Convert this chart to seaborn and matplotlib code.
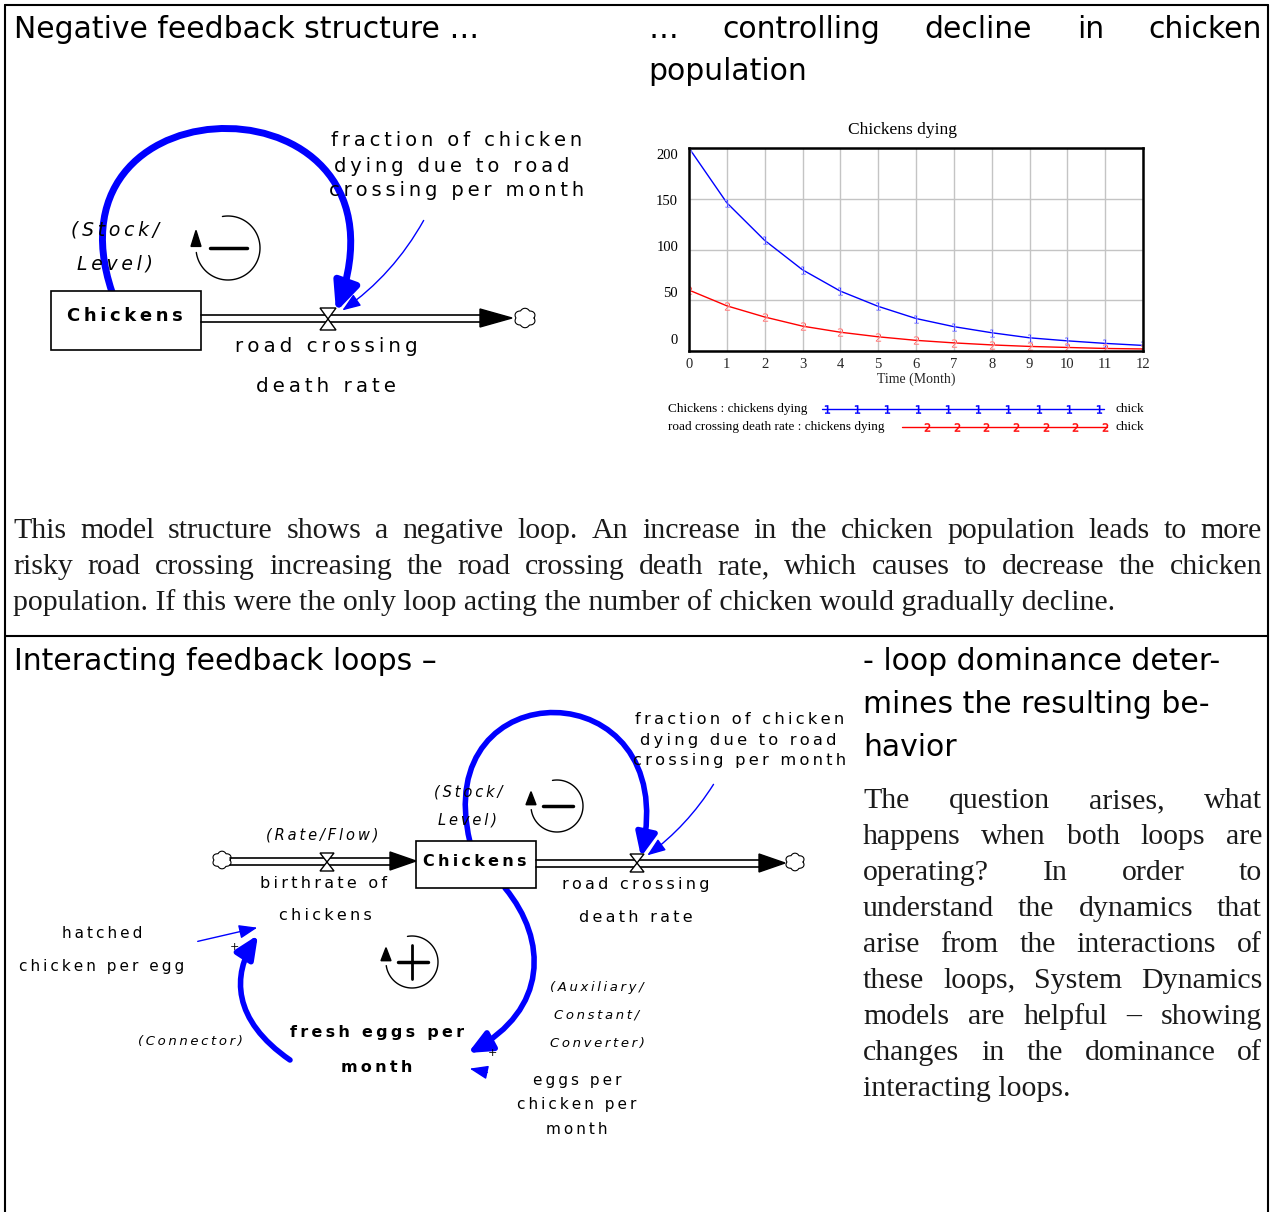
import matplotlib
matplotlib.use("Agg")
import numpy as np
import pandas as pd
import matplotlib.pyplot as plt
import seaborn as sns
from matplotlib.path import Path
from matplotlib.patches import FancyArrowPatch, Polygon, Rectangle

# chart data
months = list(range(13))
chickens_dying = [200, 146, 109, 80, 59, 44, 32, 24, 18, 13, 10, 7.5, 5.5]
road_death_rate = [60, 44.5, 33.5, 24.5, 18.5, 14, 10.5, 8, 6, 4.5, 3.5, 2.5, 2]
series_names = ["Chickens : chickens dying", "road crossing death rate : chickens dying"]
y_tick_labels = ["200", "150", "100", "50", "0"]

top_para = [
    "This model structure shows a negative loop. An increase in the chicken population leads to more",
    "risky road crossing increasing the road crossing death rate, which causes to decrease the chicken",
    "population. If this were the only loop acting the number of chicken would gradually decline.",
]
right_para = [
    "The question arises, what",
    "happens when both loops are",
    "operating? In order to",
    "understand the dynamics that",
    "arise from the interactions of",
    "these loops, System Dynamics",
    "models are helpful \u2013 showing",
    "changes in the dominance of",
    "interacting loops.",
]

BLUE = "#0000ff"
RED = "#ff0000"
SANS = "DejaVu Sans"
SERIF = "Liberation Serif"
HEAD = 21.5
BODY = 21.5

sns.set_style("white")
plt.rcParams["font.family"] = [SANS]
plt.rcParams["text.color"] = "black"

fig = plt.figure(figsize=(12.73, 12.12), dpi=100)
ax = fig.add_axes([0, 0, 1, 1])
ax.set_xlim(0, 1273)
ax.set_ylim(1212, 0)
ax.axis("off")
renderer = fig.canvas.get_renderer()


def spaced(s):
    return "\u2009".join(s)


def justify(line, x0, x1, y, **kw):
    words = line.split()
    texts = [ax.text(0, y, w, va="baseline", ha="left", **kw) for w in words]
    widths = [t.get_window_extent(renderer).width for t in texts]
    gap = (x1 - x0 - sum(widths)) / max(len(words) - 1, 1)
    x = x0
    for t, w in zip(texts, widths):
        t.set_x(x)
        x += w + gap


def paragraph(lines, x0, x1, y0, step=36):
    for i, line in enumerate(lines):
        y = y0 + step * i + 7  # baseline
        if i < len(lines) - 1:
            justify(line, x0, x1, y, fontsize=BODY, family=SERIF, color="#1a1a1a")
        else:
            ax.text(x0, y, line, fontsize=BODY, family=SERIF, va="baseline", color="#1a1a1a")


def label(x, y, s, size=12, **kw):
    ax.text(x, y, spaced(s), ha="center", va="center", fontsize=size, family=SANS, **kw)


def thick_arc(pts, lw=5, scale=15):
    p = Path(pts, [Path.MOVETO, Path.CURVE4, Path.CURVE4, Path.CURVE4])
    ax.add_patch(FancyArrowPatch(path=p, arrowstyle="-|>,head_length=1.0,head_width=0.45",
                                 mutation_scale=scale, lw=lw, color=BLUE))


def thin_arrow(a, b, rad=0.0):
    ax.add_patch(FancyArrowPatch(a, b, connectionstyle=f"arc3,rad={rad}",
                                 arrowstyle="-|>,head_length=0.8,head_width=0.3",
                                 mutation_scale=14, lw=1, color=BLUE))


def valve(cx, cy, h=11, w=8):
    ax.add_patch(Polygon([(cx - w, cy - h), (cx + w, cy - h), (cx, cy), (cx + w, cy + h),
                          (cx - w, cy + h), (cx, cy)], closed=True, fc="white", ec="black", lw=1, zorder=4))


def pipe(x0, x1, y, head=28):
    ax.plot([x0, x1 - head], [y - 3.5, y - 3.5], color="black", lw=1.2, zorder=3)
    ax.plot([x0, x1 - head], [y + 3.5, y + 3.5], color="black", lw=1.2, zorder=3)
    ax.add_patch(Polygon([(x1 - head, y - 9), (x1, y), (x1 - head, y + 9)], closed=True,
                         fc="black", ec="black", zorder=3))


def cloud(cx, cy, r=9):
    t = np.linspace(0, 2 * np.pi, 200)
    rr = r + 1.8 * np.abs(np.sin(3 * t))
    ax.plot(cx + rr * np.cos(t), cy + rr * np.sin(t) * 0.9, color="black", lw=0.8)


def loop_symbol(cx, cy, r, sign):
    t = np.radians(np.linspace(100, -172, 100))
    ax.plot(cx + r * np.cos(t), cy - r * np.sin(t), color="black", lw=1)
    ax_x = cx - r
    ax.add_patch(Polygon([(ax_x, cy - r * 0.55), (ax_x - 5, cy - r * 0.05), (ax_x + 5, cy - r * 0.05)],
                         closed=True, fc="black", ec="black"))
    ax.plot([cx - r * 0.55, cx + r * 0.6], [cy, cy], color="black", lw=2.5)
    if sign == "+":
        ax.plot([cx, cx], [cy - r * 0.65, cy + r * 0.65], color="black", lw=2)


# frame
ax.plot([5, 5], [5, 1212], color="black", lw=1.5)
ax.plot([1268, 1268], [5, 1212], color="black", lw=1.5)
ax.plot([5, 1268], [5, 5], color="black", lw=1.5)
ax.plot([5, 1268], [636, 636], color="black", lw=1.5)

# headings
ax.text(14, 38, "Negative feedback structure \u2026", fontsize=HEAD, va="baseline", family=SANS)
justify("\u2026 controlling decline in chicken", 648, 1262, 38, fontsize=HEAD, family=SANS)
ax.text(648, 80, "population", fontsize=HEAD, va="baseline", family=SANS)
ax.text(14, 670, "Interacting feedback loops \u2013", fontsize=HEAD, va="baseline", family=SANS)
for i, s in enumerate(["- loop dominance deter-", "mines the resulting be-", "havior"]):
    ax.text(863, 670 + 43 * i, s, fontsize=HEAD, va="baseline", family=SANS)

# paragraphs
paragraph(top_para, 13, 1262, 531)
paragraph(right_para, 863, 1262, 801)

# top-left stock and flow diagram
ax.add_patch(Rectangle((51, 291), 150, 59, fc="white", ec="black", lw=1.2, zorder=2))
label(125, 316, "Chickens", size=13, weight="bold", zorder=5)
pipe(201, 512, 318, head=32)
cloud(525, 318)
valve(328, 319)
label(326, 347, "road crossing", size=14.3)
label(326, 387, "death rate", size=14.3)
label(457, 141, "fraction of chicken", size=14)
label(452, 166, "dying due to road", size=14)
label(457, 191, "crossing per month", size=14)
label(115, 230, "(Stock/", size=13.5, style="italic")
label(115, 264, "Level)", size=13.5, style="italic")
thick_arc([(112, 292), (38, 72), (422, 72), (336, 312)], lw=5, scale=17)
thin_arrow((425, 218), (340, 312), rad=-0.12)
loop_symbol(228, 248, 32, "-")

# bottom diagram
ax.add_patch(Rectangle((416, 841), 120, 47, fc="white", ec="black", lw=1.2, zorder=2))
label(475, 861, "Chickens", size=11.5, weight="bold", zorder=5)
pipe(230, 416, 861, head=26)
pipe(536, 785, 863, head=26)
cloud(222, 860, r=8)
cloud(795, 862, r=8)
valve(327, 862, h=9, w=7)
valve(637, 863, h=9, w=7)
label(322, 835, "(Rate/Flow)", size=10.5, style="italic")
label(324, 883, "birthrate of", size=11.5)
label(325, 916, "chickens", size=11.5)
label(636, 885, "road crossing", size=11.5)
label(636, 918, "death rate", size=11.5)
label(740, 720, "fraction of chicken", size=11.7)
label(738, 741, "dying due to road", size=11.7)
label(740, 761, "crossing per month", size=11.7)
label(468, 792, "(Stock/", size=10.5, style="italic")
label(468, 820, "Level)", size=10.5, style="italic")
label(102, 933, "hatched", size=11)
label(102, 966, "chicken per egg", size=11)
label(377, 1032, "fresh eggs per", size=11.5, weight="bold")
label(377, 1067, "month", size=11.5, weight="bold")
label(577, 1081, "eggs per", size=11)
label(577, 1105, "chicken per", size=11)
label(577, 1130, "month", size=11)
label(597, 987, "(Auxiliary/", size=9.5, style="italic")
label(597, 1015, "Constant/", size=9.5, style="italic")
label(597, 1043, "Converter)", size=9.5, style="italic")
label(190, 1042, "(Connector)", size=9.5, style="italic")
ax.text(234, 947, "+", fontsize=8, ha="center", va="center")
ax.text(492, 1053, "+", fontsize=8, ha="center", va="center")
thick_arc([(470, 842), (428, 668), (682, 668), (641, 857)], lw=4, scale=14)
thick_arc([(505, 888), (548, 940), (548, 1010), (468, 1053)], lw=4, scale=14)
thick_arc([(290, 1060), (232, 1020), (232, 975), (258, 935)], lw=4, scale=14)
thin_arrow((715, 782), (645, 857), rad=-0.1)
thin_arrow((195, 942), (260, 927))
thin_arrow((490, 1073), (467, 1068))
loop_symbol(557, 806, 26, "-")
loop_symbol(412, 962, 26, "+")

# Vensim graph
cax = fig.add_axes([689 / 1273, 1 - 351 / 1212, (1143 - 689) / 1273, (351 - 148) / 1212])
df = pd.DataFrame({
    "Time": months + months,
    "value": chickens_dying + road_death_rate,
    "series": [series_names[0]] * len(months) + [series_names[1]] * len(months),
})
sns.lineplot(data=df, x="Time", y="value", hue="series", style="series",
             palette={series_names[0]: BLUE, series_names[1]: RED},
             markers={series_names[0]: "$1$", series_names[1]: "$2$"}, dashes=False,
             markersize=6, markeredgewidth=0.3, lw=1, legend=False, ax=cax)
cax.set_xlim(0, 12)
cax.set_ylim(0, 200)
cax.set_xticks(months)
cax.set_yticks([0, 50, 100, 150, 200])
cax.set_yticklabels([])
cax.grid(True, color="#c4c4c4", lw=1)
cax.tick_params(length=0, labelsize=10.5, pad=5)
for t in cax.get_xticklabels():
    t.set_family(SERIF)
for sp in cax.spines.values():
    sp.set_color("black")
    sp.set_linewidth(1.8)
cax.set_xlabel("Time (Month)", family=SERIF, fontsize=10, labelpad=1)
cax.set_ylabel("")
cax.set_title("Chickens dying", family=SERIF, fontsize=12.5, pad=10, x=0.47)
for i, lab in enumerate(y_tick_labels):
    yf = 0.962 - i * (0.962 - 0.054) / (len(y_tick_labels) - 1)
    cax.text(-0.024, yf, lab, transform=cax.transAxes, ha="right", va="center",
             family=SERIF, fontsize=10.5)

# graph legend
ax.text(668, 409, series_names[0], family=SERIF, fontsize=9.5, va="center")
ax.text(668, 427, series_names[1], family=SERIF, fontsize=9.5, va="center")
ax.plot([822, 1104], [409, 409], color=BLUE, lw=1)
ax.plot(np.linspace(827, 1099, 10), [409] * 10, ls="none", marker="$1$", color=BLUE, ms=6, mew=0.3)
ax.plot([902, 1107], [427, 427], color=RED, lw=1)
ax.plot(np.linspace(927, 1105, 7), [427] * 7, ls="none", marker="$2$", color=RED, ms=6, mew=0.3)
ax.text(1115, 409, "chick", family=SERIF, fontsize=9.5, va="center")
ax.text(1115, 427, "chick", family=SERIF, fontsize=9.5, va="center")

fig.savefig("out.png", dpi=100)
